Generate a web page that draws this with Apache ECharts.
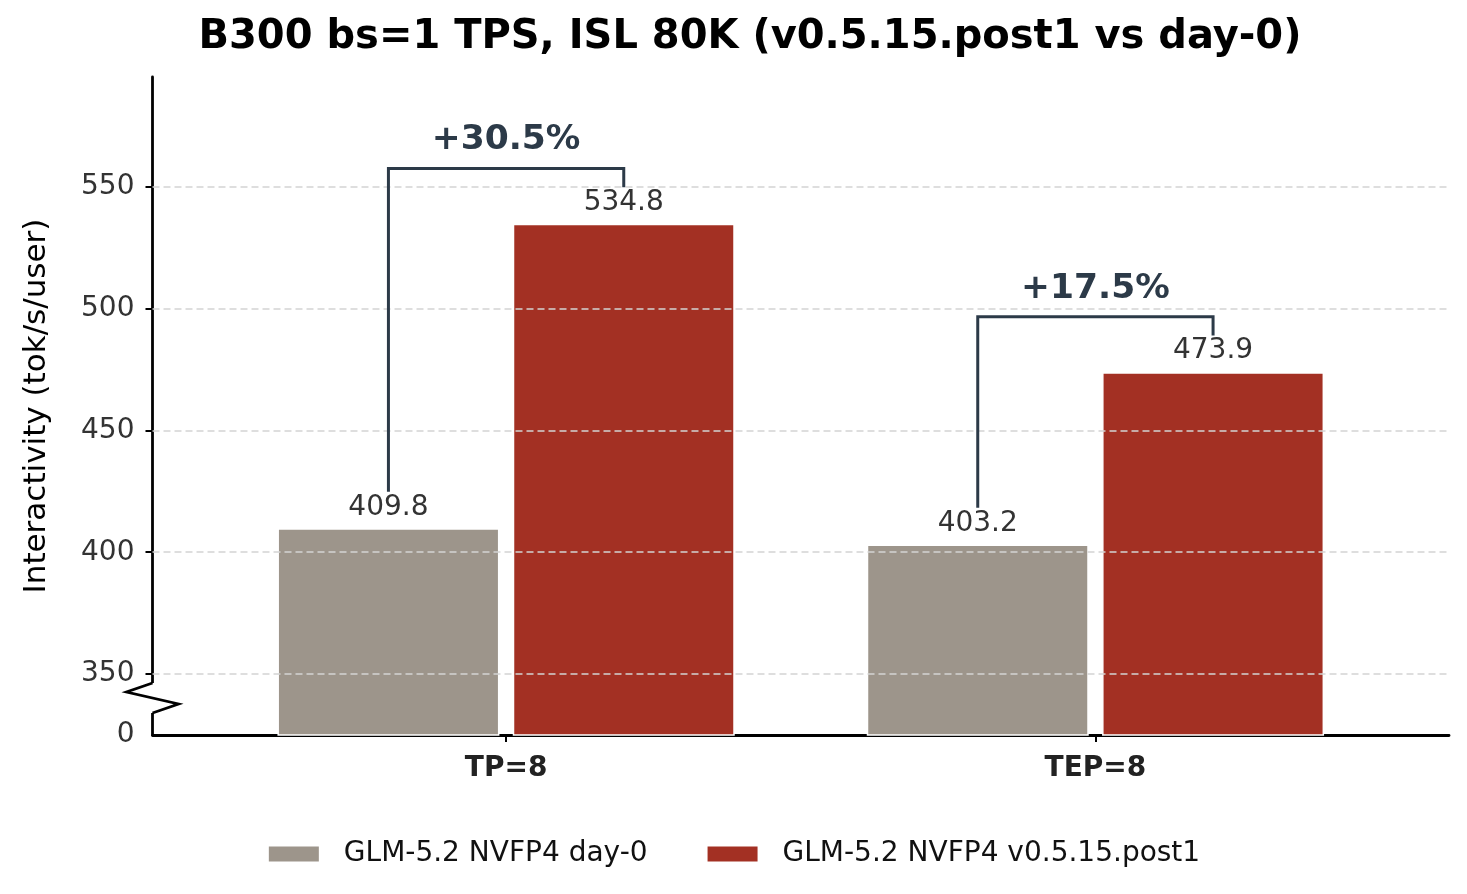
<!DOCTYPE html>
<html>
<head>
<meta charset="utf-8">
<script src="https://cdn.jsdelivr.net/npm/echarts@6/dist/echarts.min.js"></script>
<style>html,body{margin:0;padding:0;background:#fff;}#c{width:1467px;height:894px;}</style>
</head>
<body>
<div id="c"></div>
<script>
// ---- data ----
const categories = ['TP=8', 'TEP=8'];
const seriesNames = ['GLM-5.2 NVFP4 day-0', 'GLM-5.2 NVFP4 v0.5.15.post1'];
const dayZero = [409.8, 403.2];
const post1 = [534.8, 473.9];
const gainLabels = ['+30.5%', '+17.5%'];
const yTickValues = [350, 400, 450, 500, 550];
const yBreakBase = 325;   // bottom of broken axis, labelled "0"
const yTop = 595;

// ---- styling constants ----
const FONT = 'DejaVu Sans';
const BAR_W = 222;
const BAR_GAP_PCT = 6;
const HALF_STEP = (BAR_W + BAR_W * BAR_GAP_PCT / 100) / 2;
const BRACKET_COLOR = '#2c3a48';

const chart = echarts.init(document.getElementById('c'), null, {renderer: 'canvas'});

const bracketData = categories.map((c, i) => [i, dayZero[i], post1[i]]);

const option = {
  animation: false,
  backgroundColor: '#ffffff',
  textStyle: {fontFamily: FONT},
  title: {
    text: 'B300 bs=1 TPS, ISL 80K (v0.5.15.post1 vs day-0)',
    left: 745, top: 13, textAlign: 'center',
    textStyle: {fontFamily: FONT, fontWeight: 'bold', fontSize: 40, color: '#000'}
  },
  grid: {left: 152.5, right: 18, top: 77, bottom: 159, containLabel: false},
  legend: {
    data: seriesNames,
    bottom: 21, left: 'center',
    itemWidth: 52, itemHeight: 17, itemGap: 58,
    icon: 'rect',
    textStyle: {fontFamily: FONT, fontSize: 28, color: '#111', padding: [0, 0, 0, 19]}
  },
  xAxis: {
    type: 'value', min: -0.6, max: 1.6,
    axisLine: {show: true, onZero: false, lineStyle: {color: '#000', width: 2.8}},
    axisTick: {show: true, customValues: [0, 1], length: 7, lineStyle: {color: '#000', width: 2}},
    axisLabel: {
      customValues: [0, 1], margin: 20,
      formatter: v => categories[Math.round(v)] || '',
      fontFamily: FONT, fontWeight: 'bold', fontSize: 28, color: '#222'
    },
    splitLine: {show: false}
  },
  yAxis: {
    type: 'value', min: yBreakBase, max: yTop,
    name: 'Interactivity (tok/s/user)', nameLocation: 'middle', nameRotate: 90, nameGap: 100,
    nameTextStyle: {fontFamily: FONT, fontSize: 31, color: '#000'},
    axisLine: {show: true, onZero: false, lineStyle: {color: '#000', width: 2.8}},
    axisTick: {show: true, customValues: yTickValues, length: 7, lineStyle: {color: '#000', width: 2}},
    axisLabel: {
      customValues: [yBreakBase].concat(yTickValues), margin: 18,
      padding: [6, 0, 0, 0],
      formatter: v => (v === yBreakBase ? '0' : String(v)),
      fontFamily: FONT, fontSize: 28, color: '#333'
    },
    splitLine: {show: false}
  },
  series: [
    {
      type: 'line', data: [], z: 1, silent: true,
      markLine: {
        silent: true, symbol: 'none', label: {show: false},
        lineStyle: {color: '#d4d4d4', width: 1.5, type: [7, 4]},
        data: yTickValues.map(v => ({yAxis: v}))
      }
    },
    {
      name: seriesNames[0], type: 'bar', z: 2,
      data: categories.map((c, i) => [i, dayZero[i]]),
      barWidth: BAR_W, barGap: BAR_GAP_PCT + '%',
      itemStyle: {color: '#9d958b', borderColor: '#fff', borderWidth: 1.5},
      label: {show: true, position: 'top', distance: 7, formatter: p => p.value[1].toFixed(1),
        fontFamily: FONT, fontSize: 28, color: '#333'}
    },
    {
      name: seriesNames[1], type: 'bar', z: 2,
      data: categories.map((c, i) => [i, post1[i]]),
      barWidth: BAR_W, barGap: BAR_GAP_PCT + '%',
      itemStyle: {color: '#a33023', borderColor: '#fff', borderWidth: 1.5},
      label: {show: true, position: 'top', distance: 7, formatter: p => p.value[1].toFixed(1),
        fontFamily: FONT, fontSize: 28, color: '#333'}
    },
    {
      type: 'custom', z: 5, silent: true, clip: false,
      data: bracketData,
      renderItem: function (params, api) {
        const x = api.value(0), a = api.value(1), b = api.value(2);
        const top = Math.max(a, b);
        const pl = api.coord([x, a + 15]);
        const pt = api.coord([x, top + 22.7]);
        const pr = api.coord([x, b + 15]);
        const pText = api.coord([x, top + 34.3]);
        const xl = pl[0] - HALF_STEP, xr = pl[0] + HALF_STEP;
        return {
          type: 'group',
          children: [
            {type: 'polyline', shape: {points: [[xl, pl[1]], [xl, pt[1]], [xr, pt[1]], [xr, pr[1]]]},
              style: {stroke: BRACKET_COLOR, lineWidth: 3, fill: null, lineJoin: 'miter'}},
            {type: 'text', style: {text: gainLabels[params.dataIndex], x: pText[0], y: pText[1],
              align: 'center', verticalAlign: 'middle',
              font: 'bold 34.5px "DejaVu Sans"', fill: BRACKET_COLOR}}
          ]
        };
      }
    }
  ]
};
chart.setOption(option);

// axis break glyph on the y axis
const o = chart.convertToPixel({gridIndex: 0}, [-0.6, yBreakBase]);
const ax = o[0], ay = o[1];
chart.setOption({
  graphic: [
    {type: 'rect', z: 100, shape: {x: ax - 3, y: ay - 52, width: 6, height: 30}, style: {fill: '#fff'}},
    {type: 'polyline', z: 101, shape: {points: [[ax, ay - 52], [ax - 26, ay - 43], [ax + 26, ay - 31], [ax, ay - 22]]},
      style: {stroke: '#000', lineWidth: 2.8, fill: null, lineJoin: 'miter'}}
  ]
});
</script>
</body>
</html>
